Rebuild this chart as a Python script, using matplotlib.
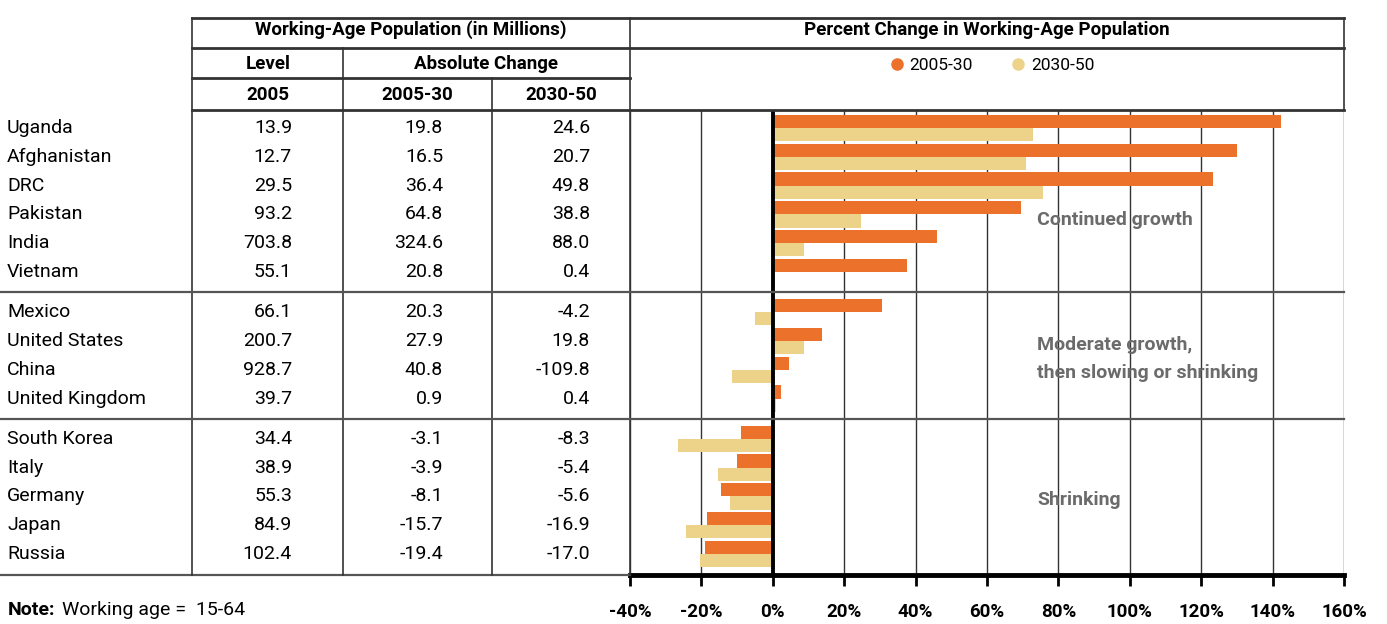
import matplotlib
matplotlib.use("Agg")
import matplotlib.pyplot as plt
import matplotlib.transforms as mtransforms
from matplotlib.lines import Line2D

# Datos de la tabla y del gráfico
# ---------------------------------------------
countries = ["Uganda", "Afghanistan", "DRC", "Pakistan", "India", "Vietnam",
             "Mexico", "United States", "China", "United Kingdom",
             "South Korea", "Italy", "Germany", "Japan", "Russia"]
groups = [0, 0, 0, 0, 0, 0, 1, 1, 1, 1, 2, 2, 2, 2, 2]
level_2005 = ["13.9", "12.7", "29.5", "93.2", "703.8", "55.1",
              "66.1", "200.7", "928.7", "39.7",
              "34.4", "38.9", "55.3", "84.9", "102.4"]
abs_2005_30 = ["19.8", "16.5", "36.4", "64.8", "324.6", "20.8",
               "20.3", "27.9", "40.8", "0.9",
               "-3.1", "-3.9", "-8.1", "-15.7", "-19.4"]
abs_2030_50 = ["24.6", "20.7", "49.8", "38.8", "88.0", "0.4",
               "-4.2", "19.8", "-109.8", "0.4",
               "-8.3", "-5.4", "-5.6", "-16.9", "-17.0"]
pct_2005_30 = [142.4, 129.9, 123.4, 69.5, 46.1, 37.7,
               30.7, 13.9, 4.4, 2.3,
               -9.0, -10.0, -14.6, -18.5, -18.9]
pct_2030_50 = [73.0, 70.9, 75.6, 24.6, 8.6, 0.5,
               -4.9, 8.7, -11.3, 1.0,
               -26.5, -15.4, -11.9, -24.4, -20.5]
x_ticks = [-40, -20, 0, 20, 40, 60, 80, 100, 120, 140, 160]
group_labels = ["Continued growth", "Moderate growth,\nthen slowing or shrinking", "Shrinking"]

c_orange = "#EC712B"
c_pale = "#EDD38A"
c_line = "#333333"
c_note = "#6B6B6B"
font = "Roboto"

W, H = 1387, 624
def fx(px):
    return px / W
def fy(py):
    return 1 - py / H

fig = plt.figure(figsize=(W / 100, H / 100), dpi=100)
fig.patch.set_facecolor("white")

# Ejes del gráfico de barras
ax = fig.add_axes([fx(630), fy(575), fx(1344) - fx(630), (575 - 110) / H])
gap = 0.4
ypos = [i + gap * g for i, g in enumerate(groups)]
ax.set_ylim(ypos[-1] + 0.73, -0.625)
ax.set_xlim(-40, 160)

bh = 0.46
ax.barh([y - 0.23 for y in ypos], pct_2005_30, height=bh, color=c_orange, zorder=2)
ax.barh([y + 0.23 for y in ypos], pct_2030_50, height=bh, color=c_pale, zorder=2)

for t in x_ticks:
    if t == 0:
        ax.axvline(0, color="black", lw=2.8, zorder=4)
    else:
        ax.axvline(t, color=c_line, lw=1.0, zorder=0)

for s in ["top", "left", "right"]:
    ax.spines[s].set_visible(False)
ax.spines["bottom"].set_linewidth(3.5)
ax.spines["bottom"].set_color("black")
ax.set_yticks([])
ax.set_xticks(x_ticks)
ax.set_xticklabels([f"{t}%" for t in x_ticks], fontfamily=font,
                   fontweight="bold", fontsize=13.5)
ax.tick_params(axis="x", direction="out", length=8, width=2, pad=12, colors="black")

# Separadores de grupos y anotaciones
seps = []
for i in range(1, len(ypos)):
    if groups[i] != groups[i - 1]:
        seps.append((ypos[i] + ypos[i - 1]) / 2)

bt = mtransforms.blended_transform_factory(fig.transFigure, ax.transData)
for s in seps:
    fig.add_artist(Line2D([fx(0), fx(1344)], [s, s], transform=bt,
                          color="#555555", lw=1.6, zorder=5))
fig.add_artist(Line2D([fx(0), fx(630)], [ypos[-1] + 0.73] * 2, transform=bt,
                      color="#555555", lw=1.6))

for g, lab in enumerate(group_labels):
    ys = [y for y, gg in zip(ypos, groups) if gg == g]
    yc = (ys[0] + ys[-1]) / 2 + 0.12
    if g == 0:
        yc = ys[3] + 0.2
    ax.text(74, yc, lab, fontfamily=font, fontweight="bold", fontsize=14,
            color=c_note, va="center", ha="left", linespacing=1.75, zorder=6)

# Texto de la tabla
cell = dict(transform=bt, fontfamily=font, fontsize=14, va="center")
for y, name, a, b, c in zip(ypos, countries, level_2005, abs_2005_30, abs_2030_50):
    fig.text(fx(7), y, name, **cell)
    fig.text(fx(292), y, a, ha="right", **cell)
    fig.text(fx(443), y, b, ha="right", **cell)
    fig.text(fx(590), y, c, ha="right", **cell)

hdr = dict(fontfamily=font, fontweight="bold", fontsize=13.5, ha="center", va="center")
fig.text(fx(411), fy(30), "Working-Age Population (in Millions)", **hdr)
fig.text(fx(987), fy(30), "Percent Change in Working-Age Population", **hdr)
fig.text(fx(268), fy(64), "Level", **hdr)
fig.text(fx(486), fy(64), "Absolute Change", **hdr)
fig.text(fx(268), fy(95), "2005", **hdr)
fig.text(fx(417), fy(95), "2005-30", **hdr)
fig.text(fx(561), fy(95), "2030-50", **hdr)

fig.text(fx(8), fy(610), "Note:", fontfamily=font, fontweight="bold", fontsize=14, va="center")
fig.text(fx(62), fy(610), "Working age =  15-64", fontfamily=font, fontsize=14, va="center")

# Líneas de la tabla
def hline(x0, x1, y, lw=1.6):
    fig.add_artist(Line2D([fx(x0), fx(x1)], [fy(y), fy(y)], color=c_line, lw=lw))
def vline(x, y0, y1, lw=1.2):
    fig.add_artist(Line2D([fx(x), fx(x)], [fy(y0), fy(y1)], color=c_line, lw=lw))

hline(192, 1344, 18, 2)
hline(192, 1344, 48, 2)
hline(192, 630, 78, 2)
hline(192, 1344, 110, 2)
vline(192, 18, 575)
vline(343, 48, 575)
vline(492, 78, 575)
vline(630, 18, 575)
vline(1344, 18, 110)

# Leyenda
handles = [Line2D([], [], marker="o", ls="", color=c_orange, markersize=8, label="2005-30"),
           Line2D([], [], marker="o", ls="", color=c_pale, markersize=8, label="2030-50")]
fig.legend(handles=handles, loc="center", bbox_to_anchor=(fx(992), fy(65)), ncol=2,
           frameon=False, prop={"family": font, "size": 12.5}, handlelength=0.8,
           handletextpad=0.35, columnspacing=2.2)

fig.savefig("out.png", dpi=100, facecolor="white")
